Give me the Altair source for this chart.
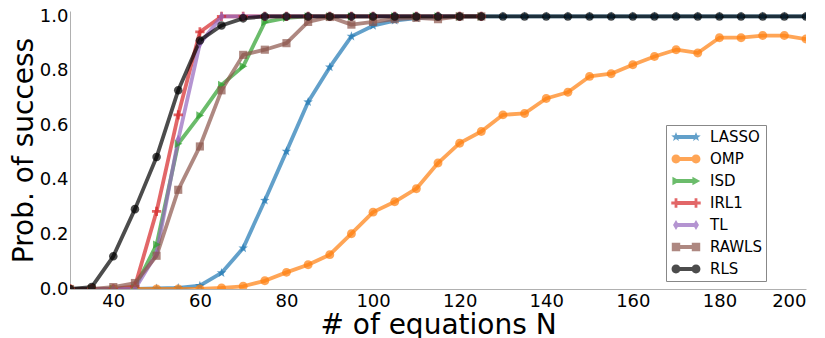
import math
import altair as alt
import pandas as pd

# ---------------- data ----------------
N_full = list(range(30, 205, 5))      # 35 points, 30..200
N_short = list(range(30, 130, 5))     # 20 points, 30..125

methods = ["LASSO", "OMP", "ISD", "IRL1", "TL", "RAWLS", "RLS"]
colors = ["#1f77b4", "#ff7f0e", "#2ca02c", "#d62728", "#9467bd", "#8c564b", "#000000"]

lasso = [0, 0, 0, 0, 0.002, 0.004, 0.012, 0.059, 0.15, 0.325, 0.505, 0.686, 0.814,
         0.927, 0.966, 0.985, 0.994, 0.998] + [1.0] * 17
omp = [0, 0, 0, 0, 0, 0, 0, 0.004, 0.01, 0.03, 0.061, 0.089, 0.126, 0.203, 0.282,
       0.32, 0.368, 0.462, 0.535, 0.578, 0.639, 0.644, 0.699, 0.722, 0.78, 0.79,
       0.823, 0.853, 0.878, 0.866, 0.922, 0.922, 0.93, 0.93, 0.917]
isd = [0, 0, 0, 0.005, 0.163, 0.533, 0.637, 0.749, 0.817, 0.979, 0.995] + [1.0] * 9
irl1 = [0, 0, 0, 0.01, 0.285, 0.639, 0.943] + [1.0] * 13
tl = [0, 0, 0, 0, 0.13, 0.548, 0.9] + [1.0] * 13
rawls = [0, 0, 0.007, 0.022, 0.122, 0.364, 0.523, 0.729, 0.859, 0.878, 0.902, 0.98,
         0.998, 0.97, 0.98, 0.99, 0.995, 0.99, 1.0, 1.0]
rls = [0, 0.007, 0.12, 0.293, 0.484, 0.729, 0.912, 0.967, 0.993] + [1.0] * 26

series = {
    "LASSO": (N_full, lasso),
    "OMP": (N_full, omp),
    "ISD": (N_short, isd),
    "IRL1": (N_short, irl1),
    "TL": (N_short, tl),
    "RAWLS": (N_short, rawls),
    "RLS": (N_full, rls),
}

x_ticks = [40, 60, 80, 100, 120, 140, 160, 180, 200]
y_ticks = [0.0, 0.2, 0.4, 0.6, 0.8, 1.0]

rows = []
for order, m in enumerate(methods):
    xs, ys = series[m]
    for n, p in zip(xs, ys):
        rows.append({"method": m, "N": n, "p": p, "order": order})
df = pd.DataFrame(rows)

# ---------------- marker shapes ----------------
def f(v):
    return f"{v:.3f}"

def poly(pts):
    return "M" + "L".join(f"{f(x)},{f(y)}" for x, y in pts) + "Z"

def star_pts(cx, cy, ro, ri):
    pts = []
    for k in range(10):
        a = -math.pi / 2 + k * math.pi / 5
        r = ro if k % 2 == 0 else ri
        pts.append((cx + r * math.cos(a), cy + r * math.sin(a)))
    return pts

def circle_path(cx, cy, r):
    return (f"M{f(cx - r)},{f(cy)}A{f(r)},{f(r)} 0 1 1 {f(cx + r)},{f(cy)}"
            f"A{f(r)},{f(r)} 0 1 1 {f(cx - r)},{f(cy)}Z")

def tri_right(cx, cy, s):
    return poly([(cx - 0.85 * s, cy - s), (cx + s, cy), (cx - 0.85 * s, cy + s)])

def plus_pts(cx, cy, a, t):
    return [(cx - t, cy - a), (cx + t, cy - a), (cx + t, cy - t), (cx + a, cy - t),
            (cx + a, cy + t), (cx + t, cy + t), (cx + t, cy + a), (cx - t, cy + a),
            (cx - t, cy + t), (cx - a, cy + t), (cx - a, cy - t), (cx - t, cy - t)]

def thin_diamond(cx, cy, w, h):
    return poly([(cx, cy - h), (cx + w, cy), (cx, cy + h), (cx - w, cy)])

def square(cx, cy, s):
    return poly([(cx - s, cy - s), (cx + s, cy - s), (cx + s, cy + s), (cx - s, cy + s)])

def marker(m, cx, cy, k):
    if m == "LASSO":
        return poly(star_pts(cx, cy, 1.0 * k, 0.42 * k))
    if m in ("OMP", "RLS"):
        return circle_path(cx, cy, 0.9 * k)
    if m == "ISD":
        return tri_right(cx, cy, 0.85 * k)
    if m == "IRL1":
        return poly(plus_pts(cx, cy, 0.95 * k, 0.28 * k))
    if m == "TL":
        return thin_diamond(cx, cy, 0.6 * k, 1.0 * k)
    return square(cx, cy, 0.85 * k)

plot_shapes = [marker(m, 0, 0, 1.0) for m in methods]
plot_sizes = [100, 90, 110, 100, 120, 140, 90]

# legend symbol: bar + two markers (units: 8 px per unit)
def legend_symbol(m):
    k = 0.62
    bar = poly([(-1.25, -0.25), (1.25, -0.25), (1.25, 0.25), (-1.25, 0.25)])
    return bar + marker(m, -1.25, 0, k) + marker(m, 1.25, 0, k)

legend_shapes = [legend_symbol(m) for m in methods]

FONT = "DejaVu Sans"

x_enc = alt.X("N:Q", scale=alt.Scale(domain=[30, 200], nice=False, zero=False),
              axis=alt.Axis(values=x_ticks, title="# of equations N", format="d",
                            titleY=44, titleBaseline="alphabetic"))
y_enc = alt.Y("p:Q", scale=alt.Scale(domain=[0, 1.02], nice=False),
              axis=alt.Axis(values=y_ticks, title="Prob. of success", format=".1f",
                            titleX=-38, titleBaseline="alphabetic"))

color_scale = alt.Scale(domain=methods, range=colors)

base = alt.Chart(df)

lines = base.mark_line(strokeWidth=3.8, opacity=0.7, clip=True, strokeJoin="round").encode(
    x=x_enc, y=y_enc,
    color=alt.Color("method:N", scale=color_scale, legend=None),
    detail="method:N",
    order="N:Q",
)

points = base.mark_point(filled=True, opacity=0.7, clip=True).encode(
    x=x_enc, y=y_enc,
    color=alt.Color("method:N", scale=color_scale, legend=None),
    shape=alt.Shape("method:N", scale=alt.Scale(domain=methods, range=plot_shapes), legend=None),
    size=alt.Size("method:N", scale=alt.Scale(domain=methods, range=plot_sizes), legend=None),
)

leg_props = dict(
    title=None, orient="none", legendX=596, legendY=114,
    symbolSize=256, symbolOpacity=0.7, symbolOffset=8,
    labelFont=FONT, labelFontSize=15, labelColor="black", labelOffset=16,
    padding=4, rowPadding=6, strokeColor="#888888", fillColor="white",
    cornerRadius=0, symbolStrokeWidth=0,
)

legend_layer = base.mark_point(filled=True, opacity=0, clip=True).encode(
    x=x_enc, y=y_enc,
    color=alt.Color("method:N", scale=color_scale, legend=alt.Legend(**leg_props)),
    shape=alt.Shape("method:N", scale=alt.Scale(domain=methods, range=legend_shapes),
                    legend=alt.Legend(**leg_props)),
)

chart = alt.layer(lines, points, legend_layer).resolve_scale(
    color="independent", shape="independent"
).properties(
    width=736, height=278,
    padding={"left": 70, "top": 11, "right": 19, "bottom": 49},
    autosize=alt.AutoSizeParams(type="none"),
).configure_view(stroke=None).configure_axis(
    labelFont=FONT, titleFont=FONT, labelFontSize=18, titleFontSize=28,
    titleFontWeight="normal", labelColor="black", titleColor="black",
    domainColor="#b0b0b0", domainWidth=1, ticks=False, tickSize=0, grid=False,
).configure_axisX(labelPadding=3).configure_axisY(labelPadding=2)

chart.save("out.html", embed_options={"renderer": "svg", "actions": False})
